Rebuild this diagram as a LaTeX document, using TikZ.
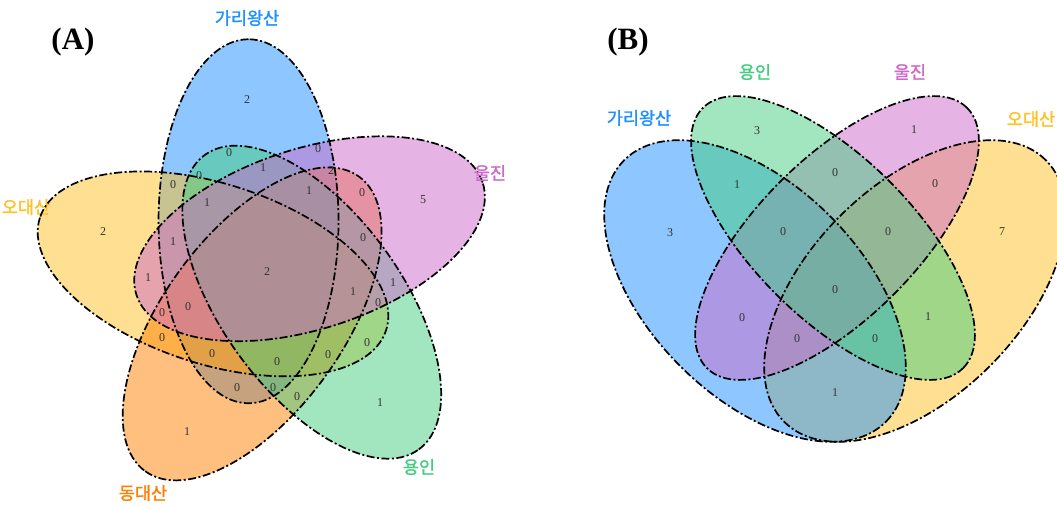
\documentclass[tikz,border=0pt]{standalone}
\usepackage{fontspec}
\setmainfont{Liberation Serif}
\newfontfamily\kr{Noto Sans CJK KR}[AutoFakeBold=1.5]
\definecolor{vblue}{RGB}{30,144,255}
\definecolor{vpurple}{RGB}{205,105,201}
\definecolor{vgreen}{RGB}{67,205,128}
\definecolor{vorange}{RGB}{255,127,0}
\definecolor{vyellow}{RGB}{255,193,37}
\tikzset{
  venn/.style={line width=1.7pt,dash pattern=on 8pt off 2.5pt on 2pt off 2.5pt},
  cnt/.style={font=\fontsize{12}{12}\selectfont,text=black!80,inner sep=1pt},
  setlabel/.style={font=\kr\bfseries\fontsize{17.5}{17.5}\selectfont,inner sep=0pt},
  panel/.style={font=\bfseries\fontsize{31}{31}\selectfont,inner sep=0pt}
}
\begin{document}
\begin{tikzpicture}[x=1pt,y=1pt]
  \useasboundingbox (0,0) rectangle (1057,-506);

  % (A): five sets
  \node[panel] (pA) at (73,-42) {(A)};
  \node[setlabel,text=vyellow] (oA) at (26,-207) {오대산};
  \foreach \k/\col in {0/vblue,4/vyellow,3/vorange,2/vgreen,1/vpurple}
    \fill[\col,fill opacity=0.5] ({267+54*cos(110-72*\k)},{-272+54*sin(110-72*\k)})
      ellipse [x radius=182,y radius=90,rotate={90-72*\k}];
  \foreach \k in {0,...,4}
    \draw[venn] ({267+54*cos(110-72*\k)},{-272+54*sin(110-72*\k)})
      ellipse [x radius=182,y radius=90,rotate={90-72*\k}];
  \node[setlabel,text=vblue] (gA) at (247,-18) {가리왕산};
  \node[setlabel,text=vpurple] (uA) at (490,-173) {울진};
  \node[setlabel,text=vgreen] (yA) at (419,-467) {용인};
  \node[setlabel,text=vorange] (dA) at (143,-493) {동대산};
  \foreach \x/\y/\n [count=\i] in {247/100/2,423/200/5,103/232/2,380/403/1,187/432/1,
      267/272/2,229/153/0,318/149/0,263/168/1,331/171/2,173/185/0,199/176/0,
      309/191/1,362/193/0,207/203/1,173/242/1,363/238/0,148/278/1,353/292/1,
      378/303/0,393/283/1,162/313/0,188/307/0,162/338/0,212/354/0,277/362/0,
      328/355/0,367/343/0,237/388/0,273/388/0,297/397/0}
    \node[cnt] (a\i) at (\x,-\y) {\n};

  % (B): four sets
  \node[panel] (pB) at (628,-42) {(B)};
  \fill[vyellow,fill opacity=0.5] (915,-291) ellipse [x radius=185,y radius=106,rotate=45];
  \fill[vblue,fill opacity=0.5] (755,-291) ellipse [x radius=185,y radius=106,rotate=-45];
  \fill[vpurple,fill opacity=0.5] (837,-238) ellipse [x radius=184,y radius=80,rotate=45];
  \fill[vgreen,fill opacity=0.5] (833,-238) ellipse [x radius=184,y radius=80,rotate=-45];
  \draw[venn] (755,-291) ellipse [x radius=185,y radius=106,rotate=-45];
  \draw[venn] (833,-238) ellipse [x radius=184,y radius=80,rotate=-45];
  \draw[venn] (837,-238) ellipse [x radius=184,y radius=80,rotate=45];
  \draw[venn] (915,-291) ellipse [x radius=185,y radius=106,rotate=45];
  \node[setlabel,text=vblue] (gB) at (639,-118) {가리왕산};
  \node[setlabel,text=vgreen] (yB) at (755,-72) {용인};
  \node[setlabel,text=vpurple] (uB) at (910,-72) {울진};
  \node[setlabel,text=vyellow] (oB) at (1031,-119) {오대산};
  \foreach \x/\y/\n [count=\i] in {670/233/3,757/131/3,914/130/1,1002/232/7,
      737/185/1,835/173/0,935/184/0,783/232/0,888/232/0,835/290/0,
      742/318/0,797/339/0,875/339/0,928/317/1,835/393/1}
    \node[cnt] (b\i) at (\x,-\y) {\n};
\end{tikzpicture}
\end{document}
